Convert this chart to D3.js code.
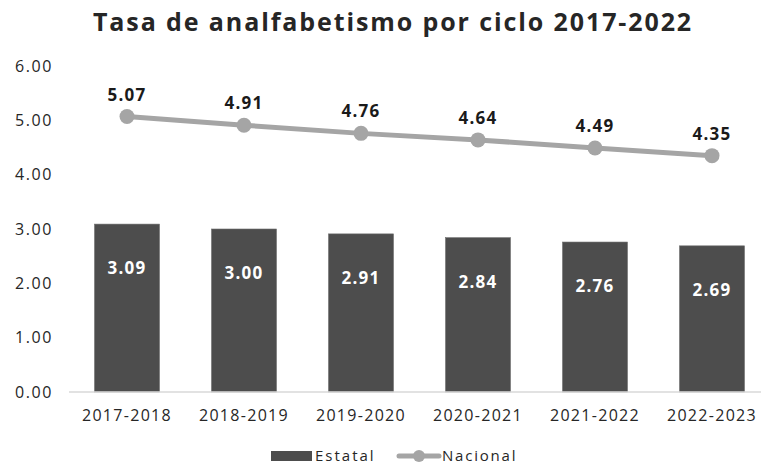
<!DOCTYPE html>
<html>
<head>
<meta charset="utf-8">
<script src="https://cdn.jsdelivr.net/npm/d3@7"></script>
<style>
  body { margin: 0; background: #fff; }
  svg text { font-family: "Open Sans", sans-serif; }
</style>
</head>
<body>
<script>
var ciclos = ["2017-2018", "2018-2019", "2019-2020", "2020-2021", "2021-2022", "2022-2023"];
var estatal = [3.09, 3.00, 2.91, 2.84, 2.76, 2.69];
var nacional = [5.07, 4.91, 4.76, 4.64, 4.49, 4.35];
var yTicks = [0, 1, 2, 3, 4, 5, 6];

var width = 761, height = 465;
var svg = d3.select("body").append("svg")
  .attr("width", width)
  .attr("height", height);

var x = d3.scaleBand()
  .domain(ciclos)
  .range([68.5, 770.5])
  .paddingInner(0.445)
  .paddingOuter(0.2225);
var y = d3.scaleLinear()
  .domain([0, 6])
  .range([392, 66]);

// title
svg.append("text")
  .attr("x", 393)
  .attr("y", 31)
  .attr("text-anchor", "middle")
  .style("font-size", "25px")
  .style("font-weight", "bold")
  .style("letter-spacing", "1.9px")
  .attr("fill", "#262626")
  .text("Tasa de analfabetismo por ciclo 2017-2022");

// y axis labels
svg.append("g").selectAll("text")
  .data(yTicks)
  .enter().append("text")
  .attr("x", 53)
  .attr("y", function (d) { return y(d); })
  .attr("dy", "0.35em")
  .attr("text-anchor", "end")
  .style("font-size", "16px")
  .style("letter-spacing", "1.6px")
  .attr("fill", "#262626")
  .text(function (d) { return d.toFixed(2); });

// bars
svg.append("g").selectAll("rect")
  .data(estatal)
  .enter().append("rect")
  .attr("x", function (d, i) { return x(ciclos[i]); })
  .attr("y", function (d) { return y(d); })
  .attr("width", x.bandwidth())
  .attr("height", function (d) { return y(0) - y(d); })
  .attr("fill", "#4d4d4d")
  .attr("stroke", "#6b6b6b")
  .attr("stroke-width", 0.6);

// baseline
svg.append("line")
  .attr("x1", 69).attr("x2", 761)
  .attr("y1", y(0)).attr("y2", y(0))
  .attr("stroke", "#d9d9d9")
  .attr("stroke-width", 1.5);

// bar labels
svg.append("g").selectAll("text")
  .data(estatal)
  .enter().append("text")
  .attr("x", function (d, i) { return x(ciclos[i]) + x.bandwidth() / 2; })
  .attr("y", function (d) { return y(d) + 50; })
  .attr("text-anchor", "middle")
  .style("font-size", "17px")
  .style("font-weight", "bold")
  .style("letter-spacing", "1.2px")
  .attr("fill", "#fff")
  .text(function (d) { return d.toFixed(2); });

// x labels
svg.append("g").selectAll("text")
  .data(ciclos)
  .enter().append("text")
  .attr("x", function (d) { return x(d) + x.bandwidth() / 2; })
  .attr("y", 421)
  .attr("text-anchor", "middle")
  .style("font-size", "16px")
  .style("letter-spacing", "1.3px")
  .attr("fill", "#262626")
  .text(function (d) { return d; });

// line
var line = d3.line()
  .x(function (d, i) { return x(ciclos[i]) + x.bandwidth() / 2; })
  .y(function (d) { return y(d); });
svg.append("path")
  .datum(nacional)
  .attr("d", line)
  .attr("fill", "none")
  .attr("stroke", "#a5a5a5")
  .attr("stroke-width", 5)
  .attr("stroke-linecap", "round");
svg.append("g").selectAll("circle")
  .data(nacional)
  .enter().append("circle")
  .attr("cx", function (d, i) { return x(ciclos[i]) + x.bandwidth() / 2; })
  .attr("cy", function (d) { return y(d); })
  .attr("r", 7.5)
  .attr("fill", "#a5a5a5");
svg.append("g").selectAll("text")
  .data(nacional)
  .enter().append("text")
  .attr("x", function (d, i) { return x(ciclos[i]) + x.bandwidth() / 2; })
  .attr("y", function (d) { return y(d) - 16; })
  .attr("text-anchor", "middle")
  .style("font-size", "17px")
  .style("font-weight", "bold")
  .style("letter-spacing", "1.2px")
  .attr("fill", "#1a1a1a")
  .text(function (d) { return d.toFixed(2); });

// legend
var lg = svg.append("g");
lg.append("rect")
  .attr("x", 271).attr("y", 451)
  .attr("width", 41).attr("height", 10)
  .attr("fill", "#4d4d4d");
lg.append("text")
  .attr("x", 315).attr("y", 456)
  .attr("dy", "0.35em")
  .style("font-size", "15px")
  .style("letter-spacing", "2px")
  .attr("fill", "#262626")
  .text("Estatal");
lg.append("line")
  .attr("x1", 399).attr("x2", 439)
  .attr("y1", 456).attr("y2", 456)
  .attr("stroke", "#a5a5a5")
  .attr("stroke-width", 5)
  .attr("stroke-linecap", "round");
lg.append("circle")
  .attr("cx", 419).attr("cy", 456).attr("r", 6)
  .attr("fill", "#a5a5a5");
lg.append("text")
  .attr("x", 442).attr("y", 456)
  .attr("dy", "0.35em")
  .style("font-size", "15px")
  .style("letter-spacing", "1.8px")
  .attr("fill", "#262626")
  .text("Nacional");
</script>
</body>
</html>
